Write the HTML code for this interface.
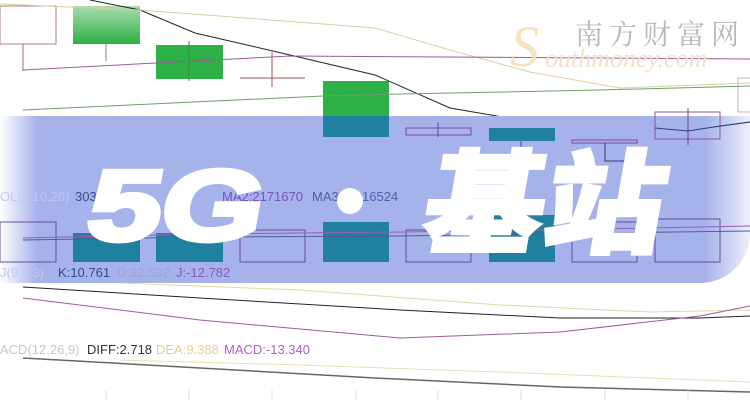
<!DOCTYPE html>
<html><head><meta charset="utf-8"><style>
html,body{margin:0;padding:0;background:#fff;}
body{width:750px;height:400px;overflow:hidden;position:relative;font-family:"Liberation Sans","Noto Sans CJK SC",sans-serif;}
svg{position:absolute;left:0;top:0;}
</style></head><body>
<svg width="750" height="400" viewBox="0 0 750 400" xmlns="http://www.w3.org/2000/svg">
<defs>
<linearGradient id="bg" x1="0" x2="1" y1="0" y2="0">
<stop offset="0" stop-color="#a6b2ea" stop-opacity="0"/>
<stop offset="0.05" stop-color="#a6b2ea" stop-opacity="1"/>
<stop offset="0.94" stop-color="#a6b2ea" stop-opacity="1"/>
<stop offset="1" stop-color="#a6b2ea" stop-opacity="0.2"/>
</linearGradient>
<linearGradient id="gg" x1="0" x2="0" y1="0" y2="1">
<stop offset="0" stop-color="#a8dcae"/><stop offset="1" stop-color="#2db045"/>
</linearGradient>
</defs>
<rect x="0" y="6" width="56" height="38" fill="#fff" stroke="#b08080" stroke-width="1"/>
<line x1="23" y1="44" x2="23" y2="71" stroke="#a07070"/>
<rect x="73" y="6" width="67" height="38" fill="url(#gg)"/>
<line x1="106" y1="44" x2="106" y2="61" stroke="#7a8a6a"/>
<rect x="156" y="45" width="67" height="34" fill="#2db045"/>
<line x1="189" y1="41" x2="189" y2="81" stroke="#3a8a4a"/>
<line x1="240" y1="78" x2="305" y2="78" stroke="#a05050"/>
<line x1="272" y1="52" x2="272" y2="87" stroke="#a05050"/>
<rect x="323" y="81" width="66" height="56" fill="#2db045"/>
<rect x="738" y="78" width="14" height="34" fill="none" stroke="#c8b0b0"/>
<polyline points="90,0 140,10 195,33 290,55 375,75 450,108 520,120 620,130 680,132 750,122" fill="none" stroke="#222" stroke-width="1"/>
<polyline points="0,4 140,10 375,28 450,50 530,72 620,88 750,83" fill="none" stroke="#d8cfa0" stroke-width="1"/>
<polyline points="23,70 290,56 750,59" fill="none" stroke="#9a5aa0" stroke-width="1"/>
<polyline points="23,110 323,96 400,94 600,90 750,86" fill="none" stroke="#6aa06a" stroke-width="1"/>
<text x="575" y="44" font-family="'Noto Serif CJK SC',serif" font-size="28" fill="#b8b8b8" letter-spacing="6">南方财富网</text>
<text x="545" y="67" font-family="'Liberation Serif',serif" font-style="italic" font-size="26" fill="#f3e0c8">outhmoney.com</text>
<text x="510" y="66" font-family="'Liberation Serif',serif" font-style="italic" font-size="58" fill="#f8dcb0" opacity="0.8">S</text>
<path d="M0,116 H750 V233 A50,50 0 0 1 700,283 H0 Z" fill="url(#bg)"/>
<rect x="323" y="116" width="66" height="21" fill="#1f80a0"/>
<rect x="406" y="128" width="65" height="7" fill="none" stroke="#7a4aa0"/>
<line x1="438" y1="122" x2="438" y2="137" stroke="#5a4a90"/>
<rect x="489" y="128" width="66" height="13" fill="#1f80a0"/>
<line x1="521" y1="141" x2="521" y2="152" stroke="#305080"/>
<rect x="572" y="140" width="65" height="3" fill="none" stroke="#7a4aa0"/>
<polyline points="605,143 605,161 640,161" fill="none" stroke="#303a80"/>
<rect x="655" y="112" width="65" height="27" fill="none" stroke="#8a5a9a"/>
<line x1="688" y1="108" x2="688" y2="145" stroke="#6a4a8a"/>
<polyline points="655,128 688,131 720,126 750,122" fill="none" stroke="#303a80"/>
<rect x="0" y="222" width="56" height="40" fill="none" stroke="#6a4aa0"/>
<rect x="73" y="233" width="67" height="29" fill="#1f80a0"/>
<rect x="156" y="233" width="67" height="29" fill="#1f80a0"/>
<rect x="240" y="230" width="65" height="32" fill="none" stroke="#6a4aa0"/>
<rect x="323" y="222" width="66" height="40" fill="#1f80a0"/>
<rect x="406" y="230" width="65" height="32" fill="none" stroke="#6a4aa0"/>
<rect x="489" y="215" width="66" height="47" fill="#1f80a0"/>
<rect x="572" y="222" width="65" height="40" fill="none" stroke="#6a4aa0"/>
<rect x="655" y="219" width="65" height="43" fill="none" stroke="#6a4aa0"/>
<polyline points="23,238 200,234 400,232 600,229 750,226" fill="none" stroke="#9a5ac0"/>
<polyline points="23,240 200,237 400,236 600,233 750,231" fill="none" stroke="#506090"/>
<text y="201" font-size="13" fill="#3a4a8a"><tspan x="0" fill="#c0c8ee">OL(5,10,20)</tspan><tspan x="75">303</tspan><tspan x="170">343</tspan><tspan x="222" fill="#7a50c0">MA2:2171670</tspan><tspan x="312" fill="#4a62a8">MA3:</tspan><tspan x="362" fill="#4a62a8">16524</tspan></text>
<text y="277" font-size="13"><tspan x="0" fill="#c0c8ee">J(9,3,3)</tspan><tspan x="58" fill="#3a4a8a">K:10.761</tspan><tspan x="117" fill="#9aa4d8">D:22.532</tspan><tspan x="176" fill="#8a5ac0">J:-12.782</tspan></text>
<g transform="skewX(-10)" fill="#fff" font-weight="900">
<text x="126" y="240" font-size="100" font-family="'Liberation Sans',sans-serif" stroke="#fff" stroke-width="5" textLength="175" lengthAdjust="spacingAndGlyphs">5G</text>
<text x="462" y="244" font-size="112" font-family="'Noto Sans CJK SC',sans-serif" stroke="#fff" stroke-width="3" textLength="240" lengthAdjust="spacingAndGlyphs">基站</text>
</g>
<circle cx="350" cy="201" r="13" fill="#fff"/>
<polyline points="23,287 200,298 400,310 560,318 700,318 750,316" fill="none" stroke="#222"/>
<polyline points="120,283 300,290 500,305 650,312 750,310" fill="none" stroke="#e0d8a0"/>
<polyline points="23,298 200,320 400,338 560,332 700,316 750,306" fill="none" stroke="#9a5aa0"/>
<text y="354" font-size="13"><tspan x="0" fill="#c8c8c8">ACD(12,26,9)</tspan><tspan x="87" fill="#333">DIFF:2.718</tspan><tspan x="156" fill="#e0d090">DEA:9.388</tspan><tspan x="224" fill="#b060c0">MACD:-13.340</tspan></text>
<polyline points="23,358 200,368 375,378 560,387 750,392" fill="none" stroke="#666" stroke-width="1.5"/>
<polyline points="120,360 300,365 500,372 750,382" fill="none" stroke="#e8e0b0"/>
<g stroke="#ddd"><line x1="106" y1="390" x2="106" y2="400"/><line x1="189" y1="390" x2="189" y2="400"/><line x1="272" y1="390" x2="272" y2="400"/><line x1="356" y1="390" x2="356" y2="400"/><line x1="438" y1="390" x2="438" y2="400"/><line x1="521" y1="390" x2="521" y2="400"/><line x1="605" y1="390" x2="605" y2="400"/><line x1="688" y1="390" x2="688" y2="400"/></g>
</svg>
</body></html>
